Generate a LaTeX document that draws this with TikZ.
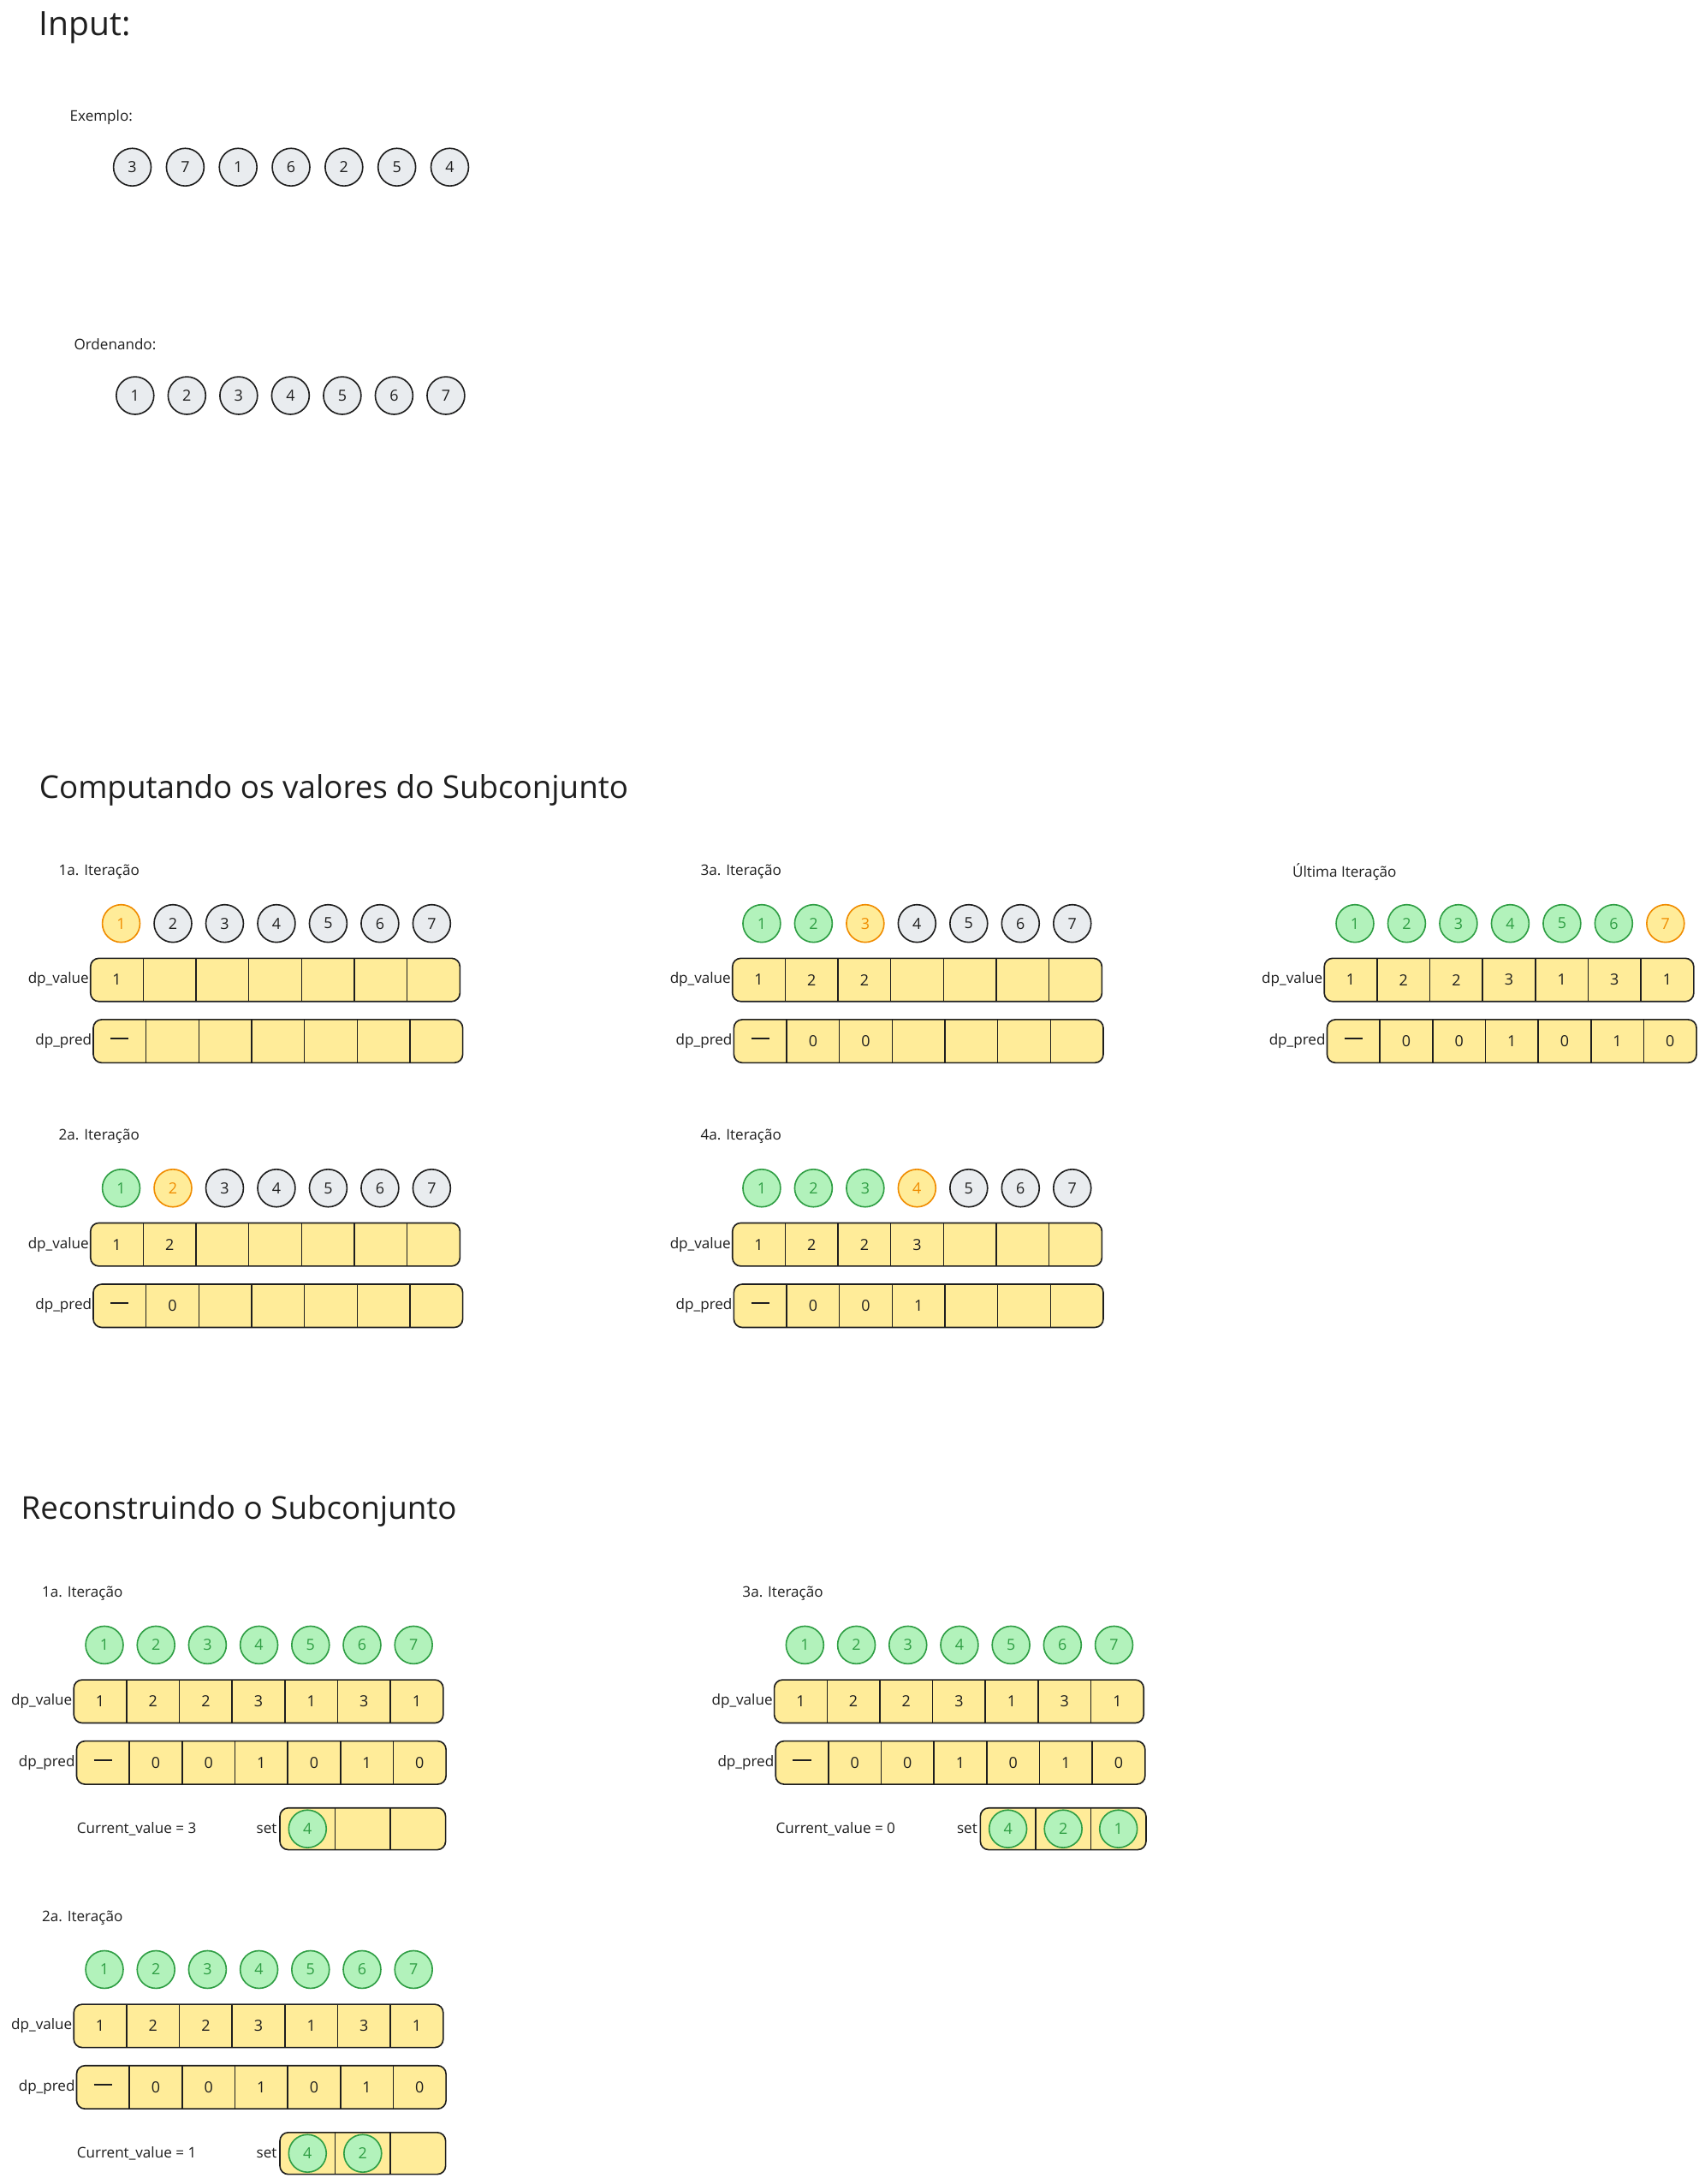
\documentclass[tikz,border=0pt]{standalone}
\usepackage{fontspec}
\setmainfont{Open Sans}
\definecolor{ink}{HTML}{1E1E1E}
\definecolor{greyfill}{HTML}{E9ECEF}
\definecolor{gfill}{HTML}{B2F2BB}
\definecolor{gstroke}{HTML}{2F9E44}
\definecolor{ostroke}{HTML}{F08C00}
\definecolor{yfill}{HTML}{FFEC99}
\newcommand{\dashmark}{\rule[3.8pt]{13pt}{0.9pt}}
\tikzset{
  apply/.style={#1},
  nc/.style={circle, minimum size=27pt, inner sep=0pt, line width=1pt, draw=ink, fill=greyfill, text=ink, font=\fontsize{11}{13}\selectfont},
  gc/.style={nc, draw=gstroke, fill=gfill, text=gstroke},
  oc/.style={nc, draw=ostroke, fill=yfill, text=ostroke},
  rowbox/.style={draw=ink, fill=yfill, line width=1pt, rounded corners=6pt},
  cellnode/.style={inner sep=0pt, minimum width=37pt, minimum height=30pt, text=ink, font=\fontsize{11}{13}\selectfont},
  divider/.style={draw=ink, line width=0.9pt},
  lbl/.style={anchor=west, inner sep=0pt, text=ink, font=\fontsize{10.5}{12}\selectfont},
  rlbl/.style={anchor=east, inner sep=1pt, text=ink, font=\fontsize{10.5}{12}\selectfont},
  htitle/.style={anchor=west, inner sep=0pt, text=ink, font=\fontsize{22.6}{26}\selectfont},
}
% #1 name, #2 x left, #3 y top, #4 seven values
\newcommand{\dprow}[4]{%
  \draw[rowbox] (#2,#3) rectangle ({#2+265.3},{#3+31});
  \foreach \v [count=\i] in {#4} {\node[cellnode] (#1-\i) at ({#2+37.9*(\i-0.5)},{#3+15.5}) {\v};}
  \foreach \k in {1,...,6} {\draw[divider] ({#2+37.9*\k},#3) -- ({#2+37.9*\k},{#3+31});}
  \coordinate (#1-w) at (#2,{#3+15.5});
}
% #1 name, #2 x of first centre, #3 y, #4 spacing, #5 style/value list
\newcommand{\circrow}[5]{%
  \foreach \s/\v [count=\i] in {#5} {\node[apply/.expand once=\s] (#1-\i) at ({#2+#4*(\i-1)},#3) {\v};}
}
% set box: #1 name, #2 x left, #3 y top
\newcommand{\setrow}[3]{%
  \draw[rowbox] (#2,#3) rectangle ({#2+119},{#3+30});
  \foreach \k in {1,2} {\draw[divider] ({#2+39.67*\k},#3) -- ({#2+39.67*\k},{#3+30});}
  \foreach \k in {1,2,3} {\coordinate (#1-\k) at ({#2+39.67*(\k-0.5)},{#3+15});}
}
\begin{document}
\begin{tikzpicture}[x=1pt,y=-1pt]
\useasboundingbox[fill=white] (0,0) rectangle (1224,1568);

% ---------------- Input
\node[htitle, font=\fontsize{24}{28}\selectfont] (tin) at (28,20) {Input:};
\node[lbl] (tex) at (50,84) {Exemplo:};
\circrow{ex}{95}{120}{38}{nc/3,nc/7,nc/1,nc/6,nc/2,nc/5,nc/4}
\node[lbl] (tord) at (53,247) {Ordenando:};
\circrow{ord}{97}{284}{37.2}{nc/1,nc/2,nc/3,nc/4,nc/5,nc/6,nc/7}

% ---------------- Computando
\node[htitle] (tcomp) at (28,567) {Computando os valores do Subconjunto};

% 1a
\node[lbl] (l1) at (42,626) {1a. Iteração};
\circrow{c1}{87}{663}{37.17}{oc/1,nc/2,nc/3,nc/4,nc/5,nc/6,nc/7}
\dprow{v1}{65}{688}{1,{},{},{},{},{},{}}
\node[rlbl] (v1l) at (v1-w) {dp\_value};
\dprow{p1}{67}{732}{\dashmark,{},{},{},{},{},{}}
\node[rlbl] (p1l) at (p1-w) {dp\_pred};

% 2a
\node[lbl] (l2) at (42,816) {2a. Iteração};
\circrow{c2}{87}{853}{37.17}{gc/1,oc/2,nc/3,nc/4,nc/5,nc/6,nc/7}
\dprow{v2}{65}{878}{1,2,{},{},{},{},{}}
\node[rlbl] (v2l) at (v2-w) {dp\_value};
\dprow{p2}{67}{922}{\dashmark,0,{},{},{},{},{}}
\node[rlbl] (p2l) at (p2-w) {dp\_pred};

% 3a
\node[lbl] (l3) at (503,626) {3a. Iteração};
\circrow{c3}{547}{663}{37.17}{gc/1,gc/2,oc/3,nc/4,nc/5,nc/6,nc/7}
\dprow{v3}{526}{688}{1,2,2,{},{},{},{}}
\node[rlbl] (v3l) at (v3-w) {dp\_value};
\dprow{p3}{527}{732}{\dashmark,0,0,{},{},{},{}}
\node[rlbl] (p3l) at (p3-w) {dp\_pred};

% 4a
\node[lbl] (l4) at (503,816) {4a. Iteração};
\circrow{c4}{547}{853}{37.17}{gc/1,gc/2,gc/3,oc/4,nc/5,nc/6,nc/7}
\dprow{v4}{526}{878}{1,2,2,3,{},{},{}}
\node[rlbl] (v4l) at (v4-w) {dp\_value};
\dprow{p4}{527}{922}{\dashmark,0,0,1,{},{},{}}
\node[rlbl] (p4l) at (p4-w) {dp\_pred};

% Ultima
\node[lbl] (l5) at (928,626) {Última Iteração};
\circrow{c5}{973}{663}{37.17}{gc/1,gc/2,gc/3,gc/4,gc/5,gc/6,oc/7}
\dprow{v5}{951}{688}{1,2,2,3,1,3,1}
\node[rlbl] (v5l) at (v5-w) {dp\_value};
\dprow{p5}{953}{732}{\dashmark,0,0,1,0,1,0}
\node[rlbl] (p5l) at (p5-w) {dp\_pred};

% ---------------- Reconstruindo
\node[htitle] (trec) at (15,1085) {Reconstruindo o Subconjunto};

% R1
\node[lbl] (r1) at (30,1144) {1a. Iteração};
\circrow{rc1}{75}{1181}{37}{gc/1,gc/2,gc/3,gc/4,gc/5,gc/6,gc/7}
\dprow{rv1}{53}{1206}{1,2,2,3,1,3,1}
\node[rlbl] (rv1l) at (rv1-w) {dp\_value};
\dprow{rp1}{55}{1250}{\dashmark,0,0,1,0,1,0}
\node[rlbl] (rp1l) at (rp1-w) {dp\_pred};
\node[lbl] (cv1) at (55,1313) {Current\_value = 3};
\setrow{s1}{201}{1298}
\node[rlbl] (st1) at (200,1313) {set};
\node[gc] (s1c1) at (s1-1) {4};

% R3
\node[lbl] (r3) at (533,1144) {3a. Iteração};
\circrow{rc3}{578}{1181}{37}{gc/1,gc/2,gc/3,gc/4,gc/5,gc/6,gc/7}
\dprow{rv3}{556}{1206}{1,2,2,3,1,3,1}
\node[rlbl] (rv3l) at (rv3-w) {dp\_value};
\dprow{rp3}{557}{1250}{\dashmark,0,0,1,0,1,0}
\node[rlbl] (rp3l) at (rp3-w) {dp\_pred};
\node[lbl] (cv3) at (557,1313) {Current\_value = 0};
\setrow{s3}{704}{1298}
\node[rlbl] (st3) at (703,1313) {set};
\node[gc] (s3c1) at (s3-1) {4};
\node[gc] (s3c2) at (s3-2) {2};
\node[gc] (s3c3) at (s3-3) {1};

% R2
\node[lbl] (r2) at (30,1377) {2a. Iteração};
\circrow{rc2}{75}{1414}{37}{gc/1,gc/2,gc/3,gc/4,gc/5,gc/6,gc/7}
\dprow{rv2}{53}{1439}{1,2,2,3,1,3,1}
\node[rlbl] (rv2l) at (rv2-w) {dp\_value};
\dprow{rp2}{55}{1483}{\dashmark,0,0,1,0,1,0}
\node[rlbl] (rp2l) at (rp2-w) {dp\_pred};
\node[lbl] (cv2) at (55,1546) {Current\_value = 1};
\setrow{s2}{201}{1531}
\node[rlbl] (st2) at (200,1546) {set};
\node[gc] (s2c1) at (s2-1) {4};
\node[gc] (s2c2) at (s2-2) {2};
\end{tikzpicture}
\end{document}
